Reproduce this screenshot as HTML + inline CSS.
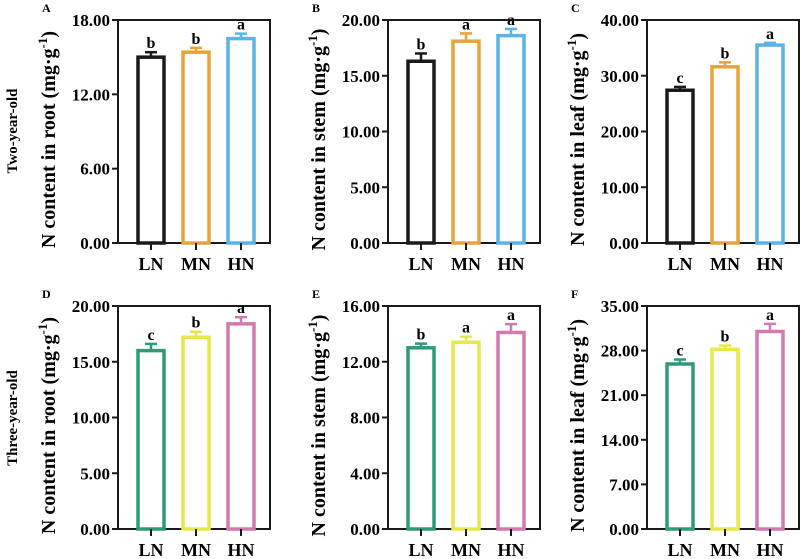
<!DOCTYPE html>
<html><head><meta charset="utf-8"><style>
body{margin:0;background:#fff}
svg{display:block;font-family:"Liberation Serif",serif;font-weight:bold}
</style></head><body>
<svg id="c" width="800" height="559" viewBox="0 0 800 559"></svg>
<script>
const categories=["LN","MN","HN"];
const valsA=[15.0,15.4,16.5], errA=[0.4,0.35,0.4], letA=["b","b","a"];
const valsB=[16.3,18.1,18.6], errB=[0.7,0.7,0.6], letB=["b","a","a"];
const valsC=[27.4,31.6,35.5], errC=[0.6,0.8,0.4], letC=["c","b","a"];
const valsD=[16.0,17.2,18.4], errD=[0.6,0.5,0.6], letD=["c","b","a"];
const valsE=[13.0,13.4,14.1], errE=[0.3,0.4,0.6], letE=["b","a","a"];
const valsF=[25.9,28.2,31.0], errF=[0.7,0.6,1.2], letF=["c","b","a"];
const ticksA=[0,6,12,18], ticksB=[0,5,10,15,20], ticksC=[0,10,20,30,40];
const ticksD=[0,5,10,15,20], ticksE=[0,4,8,12,16], ticksF=[0,7,14,21,28,35];
const topColors=["#1a1a1a","#e8a33a","#5ab4e6"], botColors=["#2f9a78","#e8e84a","#d27ab0"];
const NS="http://www.w3.org/2000/svg", svg=document.getElementById("c");
function mk(t,a,p){const e=document.createElementNS(NS,t);for(const k in a)e.setAttribute(k,a[k]);(p||svg).appendChild(e);return e;}
function panel(id,ax,top,vals,errs,lets,ticks,colors,organ){
  const g=mk("g",{});
  
  
  const W=152,H=223,bot=top+H,max=ticks[ticks.length-1];
  const y=v=>bot-v/max*H;
  const cx=[ax+33,ax+78,ax+123];
  const fr=mk("rect",{x:ax,y:top,width:W,height:H,fill:"none",stroke:"#1a1a1a","stroke-width":2},g);
  
  ticks.forEach(t=>{
    mk("line",{x1:ax-6,x2:ax,y1:y(t),y2:y(t),stroke:"#1a1a1a","stroke-width":2},g);
    const tx=mk("text",{x:ax-8,y:y(t)+6,"text-anchor":"end","font-size":17},g);
    tx.textContent=t.toFixed(2);
    
  });
  categories.forEach((c,i)=>{
    const b=mk("rect",{x:cx[i]-13,y:y(vals[i]),width:26,height:bot-y(vals[i]),fill:"none",stroke:colors[i],"stroke-width":3.5},g);
    
    const ye=y(vals[i]+errs[i]);
    mk("line",{x1:cx[i],x2:cx[i],y1:y(vals[i]),y2:ye,stroke:colors[i],"stroke-width":2.5},g);
    mk("line",{x1:cx[i]-6,x2:cx[i]+6,y1:ye,y2:ye,stroke:colors[i],"stroke-width":2.5},g);
    const l=mk("text",{x:cx[i],y:ye-4,"text-anchor":"middle","font-size":16},g);
    l.textContent=lets[i];
    
    mk("line",{x1:cx[i],x2:cx[i],y1:bot,y2:bot+7,stroke:"#1a1a1a","stroke-width":2},g);
    const xl=mk("text",{x:cx[i],y:bot+27,"text-anchor":"middle","font-size":18},g);
    xl.textContent=c;
    
  });
  const yt=mk("text",{transform:`translate(${ax-63},${top+H/2+8}) rotate(-90)`,"text-anchor":"middle","font-size":20},g);
  yt.innerHTML=`N content in ${organ} (mg·g<tspan dy="-8" font-size="13">-1</tspan><tspan dy="8">)</tspan>`;
  
  const pl=mk("text",{x:ax-76,y:top-8,"font-size":12},g);
  pl.textContent=id;
  
}
panel("A",118,20,valsA,errA,letA,ticksA,topColors,"root");
panel("B",388,20,valsB,errB,letB,ticksB,topColors,"stem");
panel("C",647,20,valsC,errC,letC,ticksC,topColors,"leaf");
panel("D",118,306,valsD,errD,letD,ticksD,botColors,"root");
panel("E",388,306,valsE,errE,letE,ticksE,botColors,"stem");
panel("F",647,306,valsF,errF,letF,ticksF,botColors,"leaf");
const r1=mk("text",{transform:"translate(17,131) rotate(-90)","text-anchor":"middle","font-size":15});
r1.textContent="Two-year-old";

const r2=mk("text",{transform:"translate(17,418) rotate(-90)","text-anchor":"middle","font-size":15});
r2.textContent="Three-year-old";

</script>
</body></html>
